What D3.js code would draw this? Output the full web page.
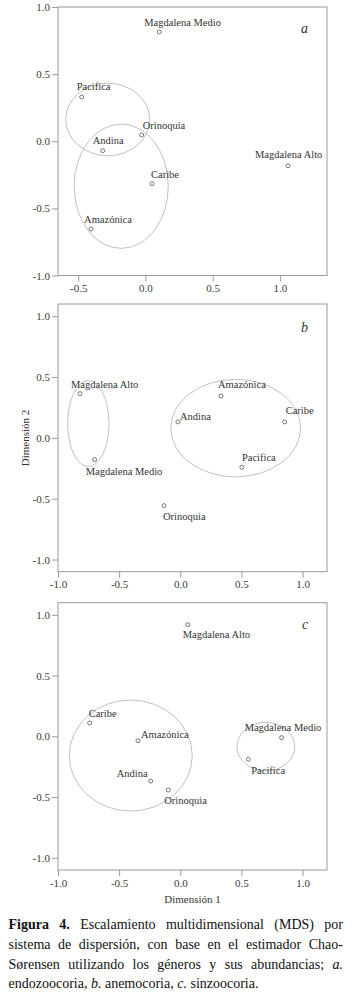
<!DOCTYPE html>
<html>
<head>
<meta charset="utf-8">
<script src="https://cdn.jsdelivr.net/npm/d3@7"></script>
<style>
  body { margin: 0; background: #fff; }
  svg { display: block; }
  svg text { font-family: "Liberation Serif", "Times New Roman", "DejaVu Serif", serif; }
</style>
</head>
<body>
<div id="container"></div>
<script>
// panel a: endozoocoria
let namesA = ["Magdalena Medio", "Pacifica", "Orinoquia", "Andina", "Caribe", "Amazónica", "Magdalena Alto"];
let xA = [0.103, -0.474, -0.028, -0.317, 0.049, -0.404, 1.06];
let yA = [0.814, 0.33, 0.047, -0.07, -0.316, -0.654, -0.182];
let ellA = [
  { cx: -0.28, cy: 0.162, rx: 0.3125, ry: 0.27 },
  { cx: -0.18, cy: -0.335, rx: 0.35, ry: 0.463 }
];

// panel b: anemocoria
let namesB = ["Magdalena Alto", "Magdalena Medio", "Amazónica", "Andina", "Caribe", "Pacifica", "Orinoquia"];
let xB = [-0.82, -0.70, 0.333, -0.019, 0.854, 0.504, -0.133];
let yB = [0.363, -0.179, 0.344, 0.131, 0.131, -0.242, -0.557];
let ellB = [
  { cx: -0.752, cy: 0.117, rx: 0.169, ry: 0.353 },
  { cx: 0.453, cy: 0.08, rx: 0.531, ry: 0.401 }
];

// panel c: sinzoocoria
let namesC = ["Magdalena Alto", "Caribe", "Amazónica", "Andina", "Orinoquia", "Magdalena Medio", "Pacifica"];
let xC = [0.061, -0.741, -0.346, -0.242, -0.098, 0.829, 0.556];
let yC = [0.919, 0.11, -0.036, -0.368, -0.442, -0.011, -0.189];
let ellC = [
  { cx: -0.405, cy: -0.158, rx: 0.503, ry: 0.457 },
  { cx: 0.70, cy: -0.085, rx: 0.236, ry: 0.20 }
];

let ticksA_x = [-0.5, 0, 0.5, 1];
let ticksBC_x = [-1, -0.5, 0, 0.5, 1];
let ticksY = [-1, -0.5, 0, 0.5, 1];

// label offsets in px (text start, baseline) from the point
let offA = [[-15, -6], [-5, -7], [1, -6], [-10, -7], [-1, -6], [-7, -6], [-33, -8]];
let offB = [[-9, -6], [-9, 15], [-3, -8], [2, -2], [1, -8], [0, -6], [-1, 14]];
let offC = [[-5, 13], [-1, -6], [3, -3], [-34, -4], [-4, 14], [-37, -7], [3, 15]];

let w = 357;
let h = 1001;
let left = 58;
let right = 327;

let viz = d3.select("#container")
  .append("svg")
    .attr("width", w)
    .attr("height", h);

function drawPanel(o) {
  let xScale = d3.scaleLinear().domain(o.xDom).range([left, right]);
  let yScale = d3.scaleLinear().domain(o.yDom).range([o.bottom, o.top]);
  let g = viz.append("g");

  g.append("rect")
    .attr("x", left).attr("y", o.top)
    .attr("width", right - left).attr("height", o.bottom - o.top)
    .attr("fill", "none").attr("stroke", "#9a9a9a").attr("stroke-width", 1);

  let yAxis = d3.axisLeft(yScale).tickValues(ticksY).tickSize(6).tickPadding(2)
    .tickFormat(d => d.toFixed(1));
  let yg = g.append("g").attr("transform", "translate(" + left + ",0)").call(yAxis);
  yg.select(".domain").remove();

  let xAxis = d3.axisBottom(xScale).tickValues(o.xTicks).tickSize(6).tickPadding(3)
    .tickFormat(d => d.toFixed(1));
  let xg = g.append("g").attr("transform", "translate(0," + o.bottom + ")").call(xAxis);
  xg.select(".domain").remove();

  [yg, xg].forEach(a => {
    a.selectAll("line").attr("stroke", "#9a9a9a");
    a.selectAll("text").attr("fill", "#3a3a3a").attr("font-size", 11);
  });

  g.selectAll("ellipse").data(o.ell).enter()
    .append("ellipse")
      .attr("cx", d => xScale(d.cx))
      .attr("cy", d => yScale(d.cy))
      .attr("rx", d => xScale(d.rx) - xScale(0))
      .attr("ry", d => yScale(0) - yScale(d.ry))
      .attr("fill", "none").attr("stroke", "#b0b0b0").attr("stroke-width", 0.8);

  let pts = o.names.map((n, i) => ({ name: n, x: o.xs[i], y: o.ys[i], off: o.off[i] }));

  g.selectAll("circle").data(pts).enter()
    .append("circle")
      .attr("cx", d => xScale(d.x))
      .attr("cy", d => yScale(d.y))
      .attr("r", 2)
      .attr("fill", "#fff").attr("stroke", "#555").attr("stroke-width", 0.8);

  g.selectAll("text.lab").data(pts).enter()
    .append("text")
      .attr("class", "lab")
      .attr("x", d => xScale(d.x) + d.off[0])
      .attr("y", d => yScale(d.y) + d.off[1])
      .attr("font-size", 10.5)
      .attr("fill", "#333")
      .text(d => d.name);

  g.append("text")
    .attr("x", o.letterX).attr("y", o.letterY)
    .attr("font-size", 14).attr("font-style", "italic").attr("fill", "#333")
    .text(o.letter);
}

drawPanel({ top: 7, bottom: 275.5, xDom: [-0.65, 1.35], yDom: [-1, 1], xTicks: ticksA_x,
  names: namesA, xs: xA, ys: yA, ell: ellA, off: offA, letter: "a", letterX: 301, letterY: 33 });
drawPanel({ top: 304, bottom: 571.7, xDom: [-1, 1.2], yDom: [-1.1, 1.1], xTicks: ticksBC_x,
  names: namesB, xs: xB, ys: yB, ell: ellB, off: offB, letter: "b", letterX: 301, letterY: 332 });
drawPanel({ top: 602.7, bottom: 870, xDom: [-1, 1.2], yDom: [-1.1, 1.1], xTicks: ticksBC_x,
  names: namesC, xs: xC, ys: yC, ell: ellC, off: offC, letter: "c", letterX: 302, letterY: 629 });

// axis titles
viz.append("text")
  .attr("transform", "translate(29,438) rotate(-90)")
  .attr("text-anchor", "middle").attr("font-size", 11).attr("fill", "#333")
  .text("Dimensión 2");
viz.append("text")
  .attr("x", (left + right) / 2).attr("y", 903)
  .attr("text-anchor", "middle").attr("font-size", 11).attr("fill", "#333")
  .text("Dimensión 1");

// caption, justified word by word
let captionLines = [
  [["Figura", "b"], ["4.", "b"], ["Escalamiento"], ["multidimensional"], ["(MDS)"], ["por"]],
  [["sistema"], ["de"], ["dispersión,"], ["con"], ["base"], ["en"], ["el"], ["estimador"], ["Chao-"]],
  [["Sørensen"], ["utilizando"], ["los"], ["géneros"], ["y"], ["sus"], ["abundancias;"], ["a.", "i"]],
  [["endozoocoria,"], ["b.", "i"], ["anemocoria,"], ["c.", "i"], ["sinzoocoria."]]
];
let capLeft = 8.5;
let capRight = 343;
let capY = [929, 948.5, 968.5, 988];

captionLines.forEach((line, li) => {
  let words = line.map(wd => {
    let t = viz.append("text")
      .attr("y", capY[li])
      .attr("font-size", 14)
      .attr("fill", "#111")
      .attr("font-weight", wd[1] === "b" ? "bold" : "normal")
      .attr("font-style", wd[1] === "i" ? "italic" : "normal")
      .text(wd[0]);
    return { t: t, width: t.node().getComputedTextLength() };
  });
  let total = d3.sum(words, d => d.width);
  let gap = li === captionLines.length - 1 ? 3.5 : (capRight - capLeft - total) / (words.length - 1);
  let cx = capLeft;
  words.forEach(d => {
    d.t.attr("x", cx);
    cx += d.width + gap;
  });
});
</script>
</body>
</html>
